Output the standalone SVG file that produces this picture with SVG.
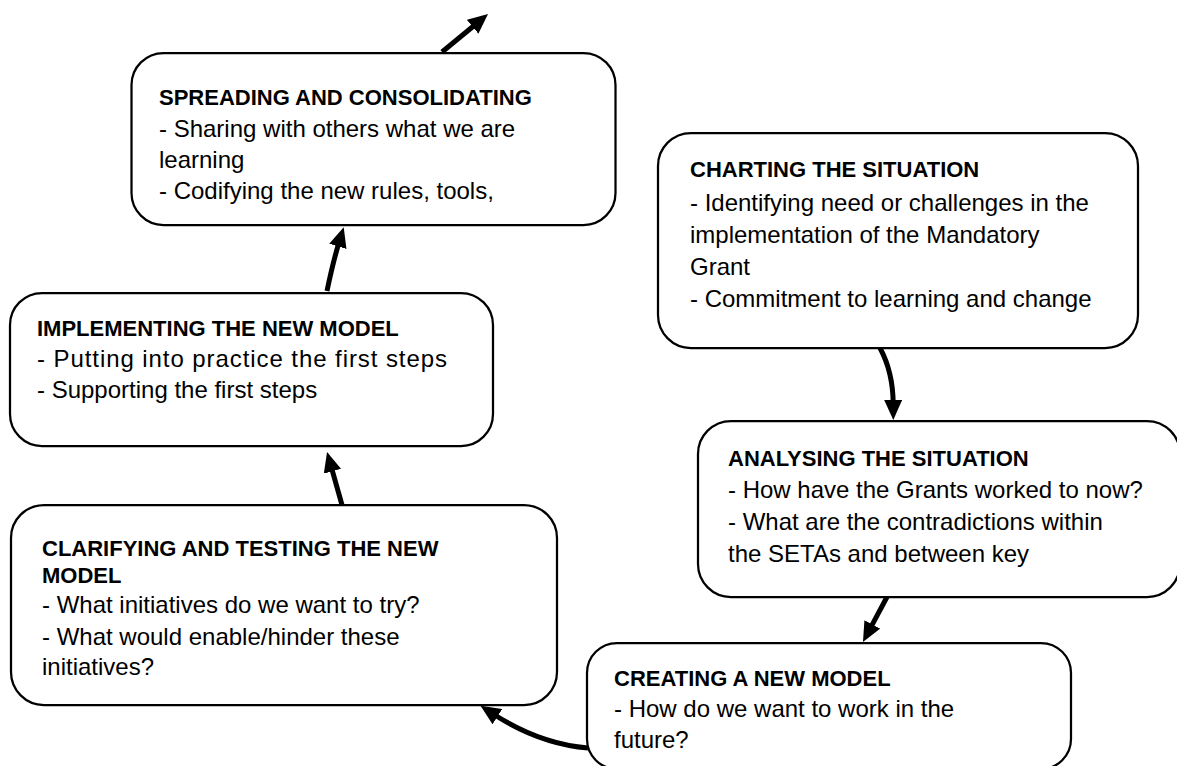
<svg xmlns="http://www.w3.org/2000/svg" width="1177" height="766" viewBox="0 0 1177 766">
  <style>
    .box { fill: #ffffff; stroke: #000000; stroke-width: 2.25; }
    .title { font-family: "Liberation Sans", Arial, sans-serif; font-weight: bold; font-size: 22px; fill: #000000; }
    .body { font-family: "Liberation Sans", Arial, sans-serif; font-size: 24px; fill: #000000; }
    .conn { fill: none; stroke: #000000; stroke-width: 5; marker-end: url(#head); }
  </style>
  <defs>
    <marker id="head" viewBox="0 0 20 18" markerWidth="20" markerHeight="18" markerUnits="userSpaceOnUse" refX="4" refY="9" orient="auto">
      <path d="M0,0 L20,9 L0,18 Z" fill="#000000"/>
    </marker>
  </defs>

  <rect width="1177" height="766" fill="#ffffff"/>

  <!-- connectors -->
  <g id="connectors">
    <path class="conn" d="M442 52 L475.7 24.2"/>
    <path class="conn" d="M327 291 Q333 262 339 242.5"/>
    <path class="conn" d="M342 505 L331.4 467.4"/>
    <path class="conn" d="M880 348 Q893 372 893.2 404"/>
    <path class="conn" d="M887 597 L870.5 627.9"/>
    <path class="conn" d="M588 748 Q540 744 494 714.5"/>
  </g>

  <g id="spreading">
    <rect class="box" x="131.5" y="53" width="484" height="172" rx="32"/>
    <text class="title" x="159" y="105">SPREADING AND CONSOLIDATING</text>
    <text class="body" x="159" y="137">- Sharing with others what we are</text>
    <text class="body" x="159" y="168">learning</text>
    <text class="body" x="159" y="199">- Codifying the new rules, tools,</text>
  </g>

  <g id="charting">
    <rect class="box" x="658" y="133" width="480" height="215" rx="33"/>
    <text class="title" x="690" y="177">CHARTING THE SITUATION</text>
    <text class="body" x="690" y="210.5">- Identifying need or challenges in the</text>
    <text class="body" x="690" y="242.5">implementation of the Mandatory</text>
    <text class="body" x="690" y="275">Grant</text>
    <text class="body" x="690" y="307">- Commitment to learning and change</text>
  </g>

  <g id="implementing">
    <rect class="box" x="10" y="293" width="483" height="153" rx="32"/>
    <text class="title" x="37" y="336">IMPLEMENTING THE NEW MODEL</text>
    <text class="body" x="37" y="367" textLength="410" lengthAdjust="spacing">- Putting into practice the first steps</text>
    <text class="body" x="37" y="398">- Supporting the first steps</text>
  </g>

  <g id="analysing">
    <rect class="box" x="698" y="421" width="482" height="176" rx="33"/>
    <text class="title" x="728" y="466">ANALYSING THE SITUATION</text>
    <text class="body" x="728" y="498">- How have the Grants worked to now?</text>
    <text class="body" x="728" y="530">- What are the contradictions within</text>
    <text class="body" x="728" y="562">the SETAs and between key</text>
  </g>

  <g id="clarifying">
    <rect class="box" x="11" y="505" width="546" height="200" rx="33"/>
    <text class="title" x="42" y="556">CLARIFYING AND TESTING THE NEW</text>
    <text class="title" x="42" y="583">MODEL</text>
    <text class="body" x="42" y="613">- What initiatives do we want to try?</text>
    <text class="body" x="42" y="645">- What would enable/hinder these</text>
    <text class="body" x="42" y="675">initiatives?</text>
  </g>

  <g id="creating">
    <rect class="box" x="587" y="643" width="484" height="126" rx="30"/>
    <text class="title" x="614" y="686">CREATING A NEW MODEL</text>
    <text class="body" x="614" y="717">- How do we want to work in the</text>
    <text class="body" x="614" y="748">future?</text>
  </g>
</svg>
